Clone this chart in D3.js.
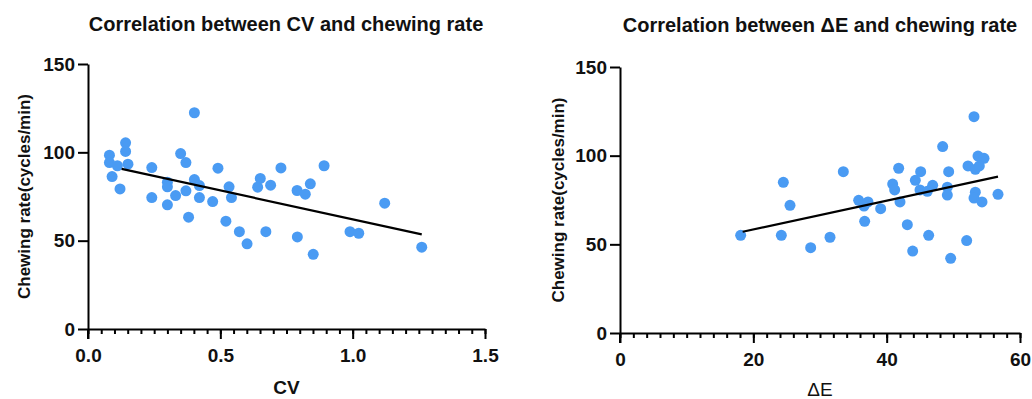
<!DOCTYPE html>
<html>
<head>
<meta charset="utf-8">
<script src="https://cdn.jsdelivr.net/npm/d3@7"></script>
<style>
  body { margin: 0; background: #fff; }
  svg { display: block; font-family: "Liberation Sans", Arial, sans-serif; }
  .axis path, .axis line { stroke: #000; stroke-width: 2; }
  .axis text { font-size: 19px; font-weight: bold; fill: #111; }
</style>
</head>
<body>
<svg width="1032" height="399"></svg>
<script>
// left panel: CV vs chewing rate
const cvX = [0.081, 0.081, 0.111, 0.091, 0.121, 0.142, 0.142, 0.151, 0.241, 0.241,
  0.300, 0.300, 0.300, 0.331, 0.350, 0.370, 0.370, 0.380, 0.402, 0.402,
  0.421, 0.421, 0.471, 0.491, 0.521, 0.533, 0.542, 0.572, 0.601, 0.641,
  0.651, 0.672, 0.690, 0.729, 0.790, 0.791, 0.821, 0.840, 0.851, 0.892,
  0.990, 1.023, 1.121, 1.261];
const cvY = [98.4, 94.2, 92.4, 86.3, 79.3, 105.4, 100.5, 93.3, 91.4, 74.4,
  83.1, 80.5, 70.3, 75.5, 99.3, 94.2, 78.2, 63.3, 122.4, 84.6,
  81.2, 74.4, 72.1, 91.0, 61.0, 80.5, 74.4, 55.1, 48.2, 80.3,
  85.2, 55.1, 81.4, 91.2, 78.4, 52.1, 76.3, 82.2, 42.3, 92.4,
  55.1, 54.2, 71.2, 46.3];
const cvFitX = [0.127, 1.261];
const cvFitY = [90.6, 53.6];
const cvTicks = [0, 0.5, 1.0, 1.5];

// right panel: ΔE vs chewing rate
const deX = [18.1, 24.5, 25.5, 24.2, 28.6, 31.5, 33.5, 35.8, 36.6, 37.2,
  36.7, 39.1, 40.9, 41.2, 41.8, 42.0, 43.1, 43.9, 44.3, 45.1,
  45.0, 46.1, 46.9, 46.3, 48.4, 49.3, 49.1, 49.1, 49.6, 52.0,
  52.2, 53.1, 53.3, 53.7, 54.6, 53.9, 53.3, 53.1, 54.3, 56.7];
const deY = [55.1, 85.0, 72.0, 55.1, 48.1, 54.0, 91.0, 74.8, 71.6, 73.9,
  63.0, 70.1, 84.0, 80.7, 92.9, 73.9, 61.1, 46.2, 86.1, 91.0,
  80.7, 79.9, 83.3, 55.1, 105.1, 91.0, 82.2, 77.8, 42.1, 52.1,
  94.2, 122.0, 92.3, 99.8, 98.5, 94.2, 79.4, 76.1, 73.9, 78.2];
const deFitX = [18.4, 56.7];
const deFitY = [57.1, 88.2];
const deTicks = [0, 20, 40, 60];

const rateTicks = [0, 50, 100, 150];
const yLabel = "Chewing rate(cycles/min)";

const svg = d3.select("svg");

function drawPanel(opt) {
  const x = d3.scaleLinear().domain(opt.xDomain).range(opt.xRange);
  const y = d3.scaleLinear().domain([0, 150]).range(opt.yRange);
  const g = svg.append("g");

  // minor x ticks
  g.append("g")
    .attr("class", "axis")
    .attr("transform", `translate(0,${opt.yRange[0]})`)
    .call(d3.axisBottom(x).tickValues(d3.range(opt.xDomain[0], opt.xDomain[1] + opt.minor / 2, opt.minor)).tickSize(5).tickFormat(""))
    .call(a => a.select(".domain").remove());

  g.append("g")
    .attr("class", "axis")
    .attr("transform", `translate(0,${opt.yRange[0]})`)
    .call(d3.axisBottom(x).tickValues(opt.xTicks).tickSize(10).tickSizeOuter(0).tickPadding(10).tickFormat(opt.fmt));

  g.append("g")
    .attr("class", "axis")
    .attr("transform", `translate(${opt.xRange[0]},0)`)
    .call(d3.axisLeft(y).tickValues(rateTicks).tickSize(10).tickSizeOuter(0).tickPadding(3));

  // y tick at 0 crosses the axis
  g.append("line")
    .attr("x1", opt.xRange[0]).attr("x2", opt.xRange[0])
    .attr("y1", y(0)).attr("y2", y(0) + 10)
    .attr("stroke", "#000").attr("stroke-width", 2);

  g.append("g").selectAll("circle")
    .data(opt.xs.map((v, i) => [v, opt.ys[i]]))
    .join("circle")
    .attr("cx", d => x(d[0]))
    .attr("cy", d => y(d[1]))
    .attr("r", 5.5)
    .attr("fill", "#4a9bf3");

  g.append("path")
    .datum(opt.fitX.map((v, i) => [v, opt.fitY[i]]))
    .attr("d", d3.line().x(d => x(d[0])).y(d => y(d[1])))
    .attr("stroke", "#000")
    .attr("stroke-width", 2.2)
    .attr("fill", "none");

  g.append("text")
    .attr("x", opt.titleX)
    .attr("y", opt.titleY)
    .attr("text-anchor", "middle")
    .style("font-size", "20px")
    .style("font-weight", "bold")
    .attr("fill", "#111")
    .text(opt.title);

  g.append("text")
    .attr("transform", `translate(${opt.yLabelX},${(opt.yRange[0] + opt.yRange[1]) / 2}) rotate(-90)`)
    .attr("text-anchor", "middle")
    .attr("dy", "0.35em")
    .style("font-size", "17px")
    .style("font-weight", "bold")
    .attr("fill", "#111")
    .text(yLabel);

  g.append("text")
    .attr("x", (opt.xRange[0] + opt.xRange[1]) / 2)
    .attr("y", opt.xLabelY)
    .attr("text-anchor", "middle")
    .style("font-size", "19px")
    .style("font-weight", opt.xLabelWeight)
    .attr("fill", "#111")
    .text(opt.xLabel);
}

drawPanel({
  xDomain: [0, 1.5], xRange: [88, 485], yRange: [329, 64],
  xTicks: cvTicks, minor: 0.05, fmt: d3.format(".1f"),
  xs: cvX, ys: cvY, fitX: cvFitX, fitY: cvFitY,
  title: "Correlation between CV and chewing rate", titleX: 286, titleY: 31,
  yLabelX: 24, xLabel: "CV", xLabelWeight: "bold", xLabelY: 394
});

drawPanel({
  xDomain: [0, 60], xRange: [620, 1020], yRange: [333, 67],
  xTicks: deTicks, minor: 2, fmt: d3.format("d"),
  xs: deX, ys: deY, fitX: deFitX, fitY: deFitY,
  title: "Correlation between ΔE and chewing rate", titleX: 820, titleY: 32,
  yLabelX: 558, xLabel: "ΔE", xLabelWeight: "normal", xLabelY: 396
});
</script>
</body>
</html>
